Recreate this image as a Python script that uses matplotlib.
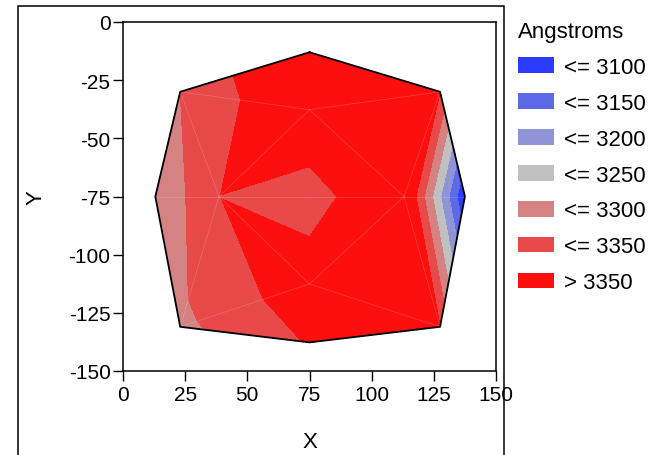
import numpy as np
import matplotlib.pyplot as plt
import matplotlib.tri as mtri
from matplotlib.patches import Patch, Rectangle

plt.rcParams['font.family'] = ['Liberation Sans', 'DejaVu Sans']
plt.rcParams['axes.unicode_minus'] = False

# mesh nodes: outer octagon (0-7), inner ring (8-11), centre (12)
node_x = [75, 127.5, 137.5, 127.5, 75, 23, 13, 23, 75, 113, 75, 38.6, 75]
node_y = [-13, -30, -75, -131, -137.7, -131, -75, -30, -37.7, -75, -112.6, -75, -75]
node_z = [3422, 3351, 3053, 3351, 3354, 3287, 3255, 3300, 3407, 3423, 3385, 3349, 3320]
triangles = [[7, 0, 8], [0, 1, 8], [1, 9, 8], [1, 2, 9], [2, 3, 9], [3, 10, 9],
             [3, 4, 10], [4, 5, 10], [5, 11, 10], [5, 6, 11], [6, 7, 11], [7, 8, 11],
             [12, 8, 9], [12, 9, 10], [12, 10, 11], [12, 11, 8]]
hidden_edges = [(0, 8), (4, 10), (8, 12), (10, 12)]

levels = [3000, 3100, 3150, 3200, 3250, 3300, 3350, 3500]
band_colors = ['#2b3cff', '#5d69e8', '#8e94d5', '#c0c0c0', '#d48282', '#e84a4a', '#fc0f0f']
band_labels = ['<= 3100', '<= 3150', '<= 3200', '<= 3250', '<= 3300', '<= 3350', '> 3350']

fig = plt.figure(figsize=(6.55, 4.56), dpi=100)
ax = fig.add_axes([123/655, 1-372/456, 373/655, 349/456])

tri = mtri.Triangulation(node_x, node_y, triangles)
ax.tricontourf(tri, node_z, levels=levels, colors=band_colors)

# faint seams between mesh elements
for a, b in tri.edges:
    if (min(a, b), max(a, b)) in hidden_edges:
        continue
    ax.plot([node_x[a], node_x[b]], [node_y[a], node_y[b]], color='white', lw=0.5, alpha=0.2)

# octagon outline
ring = list(range(8)) + [0]
ax.plot([node_x[i] for i in ring], [node_y[i] for i in ring], color='black', lw=1.3)

ax.set_xlim(0, 150)
ax.set_ylim(-150, 0)
ax.set_xticks([0, 25, 50, 75, 100, 125, 150])
ax.set_yticks([0, -25, -50, -75, -100, -125, -150])
ax.tick_params(direction='out', length=7, width=1, labelsize=15, color='black')
ax.tick_params(axis='x', pad=3)
ax.tick_params(axis='y', pad=2)
for s in ax.spines.values():
    s.set_linewidth(1.1)
ax.set_xlabel('X', fontsize=16)
ax.set_ylabel('Y', fontsize=16)
ax.xaxis.set_label_coords(0.5, -0.172)
ax.yaxis.set_label_coords(-0.204, 0.5)

# outer panel frame
fig.patches.append(Rectangle((18/655, -0.05), (504-18)/655, 1.05 - 7/456,
                             transform=fig.transFigure, fill=False, ec='black', lw=1.1))

handles = [Patch(facecolor=c, edgecolor='none') for c in band_colors]
leg = fig.legend(handles, band_labels, title='Angstroms', loc='upper left',
                 bbox_to_anchor=(518/655, 1-22/456), frameon=False, fontsize=16,
                 title_fontsize=16, handlelength=1.62, handleheight=0.72,
                 handletextpad=0.45, labelspacing=0.67, borderpad=0, borderaxespad=0,
                 alignment='left')

fig.savefig('out.png', dpi=100)
